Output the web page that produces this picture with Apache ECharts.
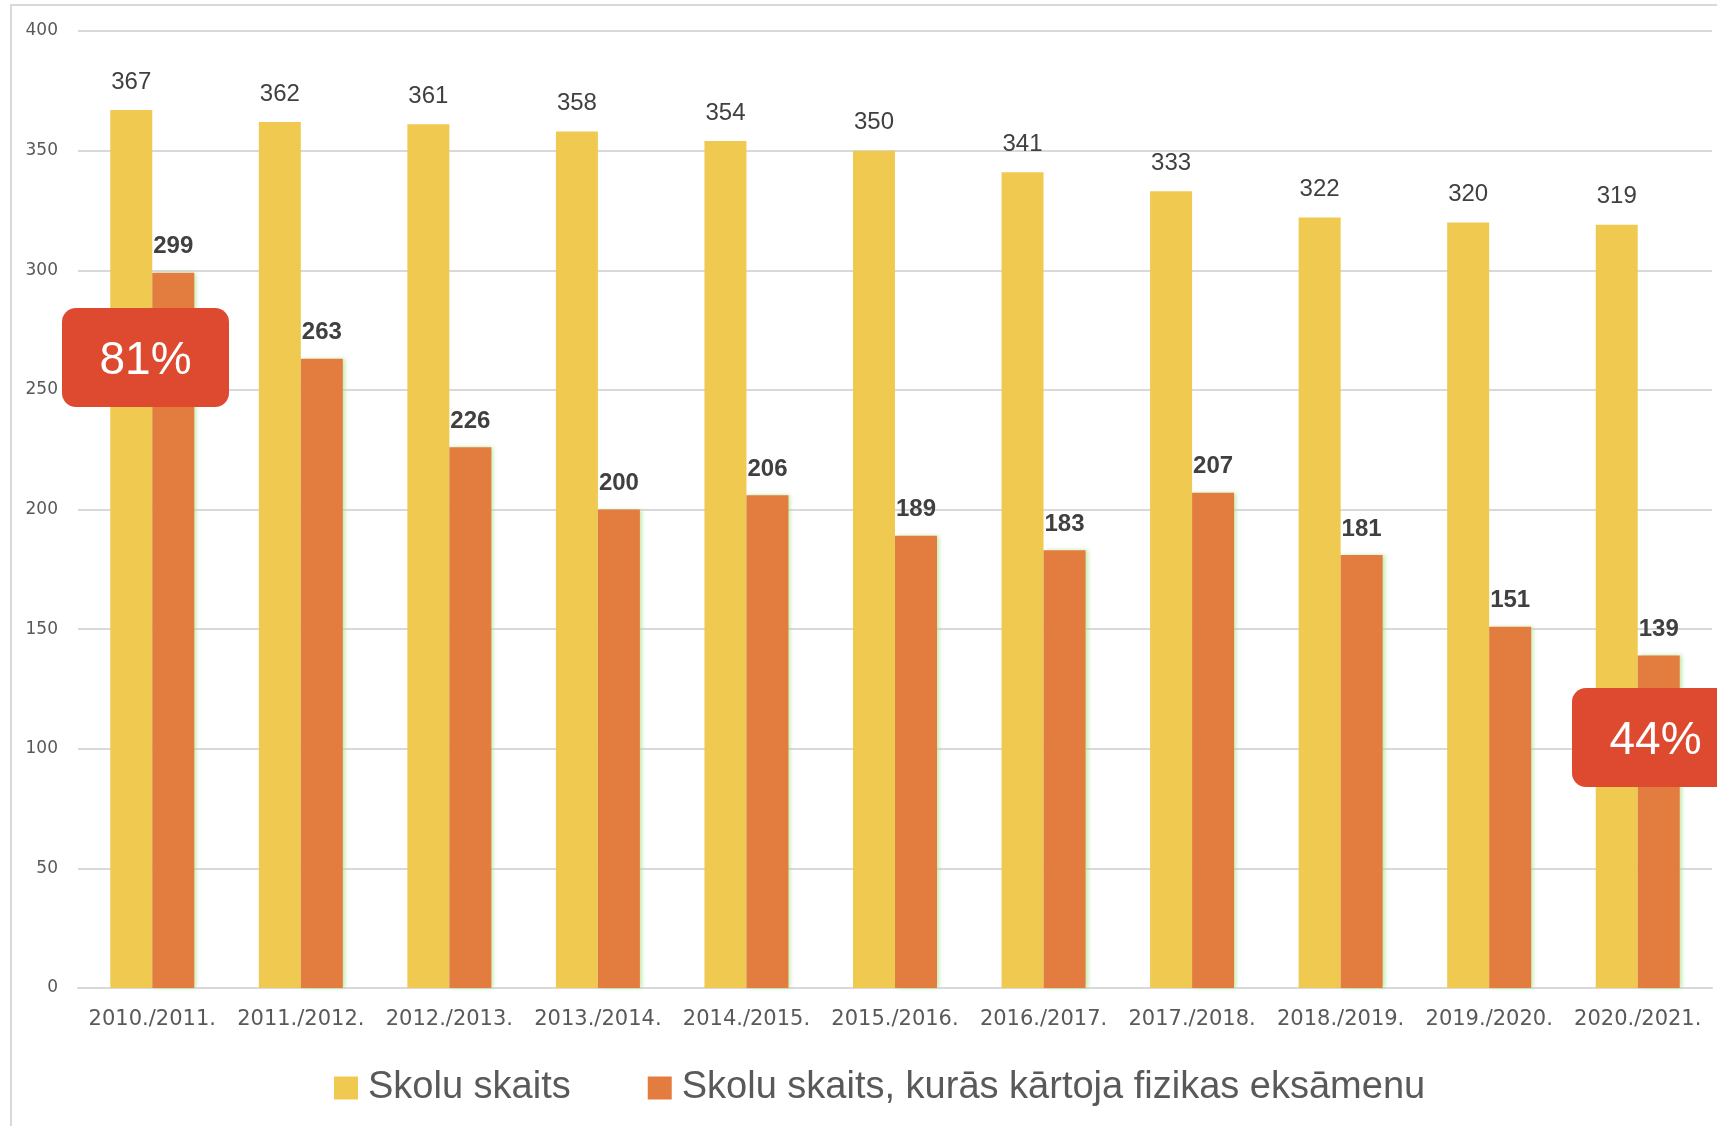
<!DOCTYPE html>
<html>
<head>
<meta charset="utf-8">
<script src="https://cdn.jsdelivr.net/npm/echarts@6/dist/echarts.min.js"></script>
<style>
  html, body { margin: 0; padding: 0; background: #fff; }
  #chart { width: 1717px; height: 1126px; }
</style>
</head>
<body>
<div id="chart"></div>
<script>
var years = ['2010./2011.', '2011./2012.', '2012./2013.', '2013./2014.', '2014./2015.', '2015./2016.',
  '2016./2017.', '2017./2018.', '2018./2019.', '2019./2020.', '2020./2021.'];
var skoluSkaits = [367, 362, 361, 358, 354, 350, 341, 333, 322, 320, 319];
var fizikasSkaits = [299, 263, 226, 200, 206, 189, 183, 207, 181, 151, 139];
var seriesNames = ['Skolu skaits', 'Skolu skaits, kurās kārtoja fizikas eksāmenu'];
var notes = ['81%', '44%'];

var chartDom = document.getElementById('chart');
var myChart = echarts.init(chartDom);
var option;

// rounded red note boxes, drawn above the bars
function noteBox(left, top, text) {
  return {
    type: 'group', left: left, top: top, z: 100, zlevel: 1,
    children: [
      { type: 'rect', z: 100, zlevel: 1, shape: { x: 0, y: 0, width: 167, height: 99, r: 14 }, style: { fill: '#DD4A30' } },
      { type: 'text', z: 101, zlevel: 1, x: 83.5, y: 53, style: { text: text, fill: '#fff', font: '46px "Liberation Sans"', align: 'center', verticalAlign: 'middle' } }
    ]
  };
}

option = {
  animation: false,
  textStyle: { fontFamily: 'Liberation Sans' },
  grid: { left: 78, right: 5, top: 31, bottom: 138, containLabel: false },
  legend: {
    left: 329, top: 1064,
    itemWidth: 24, itemHeight: 23, itemGap: 77,
    icon: 'rect',
    textStyle: { fontSize: 38, color: '#595959', padding: [0, 0, 0, 5] },
    data: seriesNames
  },
  xAxis: {
    type: 'category',
    data: years,
    axisLine: { lineStyle: { color: '#D9D9D9', width: 2 } },
    axisTick: { show: false },
    axisLabel: { interval: 0, fontSize: 21, fontFamily: 'DejaVu Sans', color: '#595959', margin: 21 }
  },
  yAxis: {
    type: 'value', min: 0, max: 400, interval: 50,
    axisLine: { show: false },
    axisTick: { show: false },
    axisLabel: { fontSize: 17, fontFamily: 'DejaVu Sans', color: '#595959', margin: 20 },
    splitLine: { lineStyle: { color: '#D9D9D9', width: 2 } }
  },
  graphic: [
    { type: 'rect', z: -1, shape: { x: 11, y: 5, width: 1800, height: 1200 }, style: { fill: 'none', stroke: '#D9D9D9', lineWidth: 2 } },
    noteBox(62, 308, notes[0]),
    noteBox(1572, 688, notes[1])
  ],
  series: [
    {
      name: seriesNames[0], type: 'bar', data: skoluSkaits,
      barWidth: 42, barGap: '0%',
      itemStyle: { color: '#F0C950' },
      label: { show: true, position: 'top', distance: 16, fontSize: 24, color: '#404040' }
    },
    {
      name: seriesNames[1], type: 'bar', data: fizikasSkaits,
      barWidth: 42,
      itemStyle: { color: '#E37C3F', shadowColor: 'rgba(170,225,140,0.7)', shadowBlur: 4, shadowOffsetX: 2 },
      label: { show: true, position: 'top', distance: 14, fontSize: 24, fontWeight: 'bold', color: '#404040' }
    }
  ]
};
option && myChart.setOption(option);
</script>
</body>
</html>
